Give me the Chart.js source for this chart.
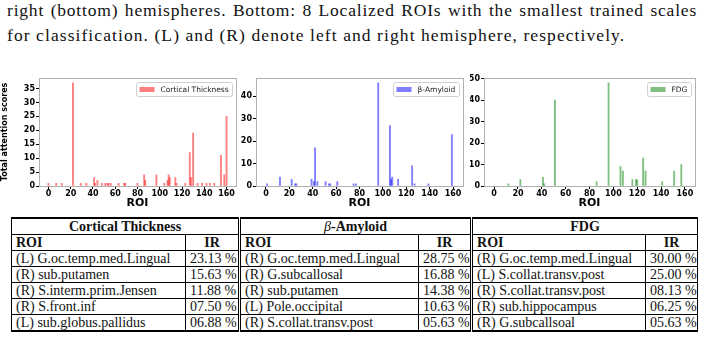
<!DOCTYPE html>
<html>
<head>
<meta charset="utf-8">
<script src="https://cdn.jsdelivr.net/npm/chart.js@4/dist/chart.umd.min.js"></script>
<style>
  html, body { margin:0; padding:0; background:#fff; }
  body { width:703px; height:338px; position:relative; overflow:hidden; }
  .cap { position:absolute; left:7px; font-family:"Liberation Serif", serif; font-size:17.5px; letter-spacing:1.08px; color:#111; white-space:nowrap; line-height:20px; }
  .just { white-space:normal; text-align:justify; text-align-last:justify; letter-spacing:0.8px; }
  .cw { position:absolute; }
  #tbl { position:absolute; left:11px; top:217px; width:686px; border-collapse:collapse; table-layout:fixed;
         font-family:"Liberation Serif", serif; font-size:14px; color:#111;
         border-top:2px solid #000; border-bottom:2px solid #000; }
  #tbl td, #tbl th { border:1px solid #000; padding:0 4px; height:15px; line-height:15px; white-space:nowrap; overflow:hidden; }
  #tbl th { font-weight:bold; text-align:center; }
  #tbl .l { text-align:left; }
  #tbl .g { border-left:3px double #000; }
  #tbl td.ir { text-align:center; }
</style>
</head>
<body>
<div class="cap just" style="top:0px;width:690px;">right (bottom) hemispheres. Bottom: 8 Localized ROIs with the smallest trained scales</div>
<div class="cap" style="top:25px;">for classification. (L) and (R) denote left and right hemisphere, respectively.</div>

<div class="cw" style="left:0px;top:72px;width:240px;height:138px;"><canvas id="c1"></canvas></div>
<div class="cw" style="left:240px;top:72px;width:230px;height:138px;"><canvas id="c2"></canvas></div>
<div class="cw" style="left:470px;top:72px;width:233px;height:138px;"><canvas id="c3"></canvas></div>

<table id="tbl">
  <colgroup><col style="width:174px"><col style="width:54px"><col style="width:179px"><col style="width:53px"><col style="width:174px"><col style="width:52px"></colgroup>
  <tbody id="tb"></tbody>
</table>

<script>
// ---------- data ----------
const xTicks = [0, 20, 40, 60, 80, 100, 120, 140, 160];

const ctLabel = "Cortical Thickness";
const ctRoi = [0, 7, 12, 22, 29, 34, 41, 42, 44, 48, 51, 53, 54, 56, 63, 68, 69, 80, 86, 87, 97, 104, 107, 108, 109, 114, 115, 123, 127, 128, 130, 134, 138, 142, 145, 149, 155, 158, 160];
const ctVal = [1, 1, 1, 37, 1, 1, 3, 1, 2, 1, 1, 1, 1, 1, 1, 1, 1, 1, 4, 2, 4, 1, 2, 4, 3, 3, 1, 1, 12, 3, 19, 1, 1, 1, 1, 1, 11, 4, 25];
const ctYTicks = [0, 5, 10, 15, 20, 25, 30, 35];

const amLabel = "β-Amyloid";
const amRoi = [1, 12, 22, 25, 26, 39, 41, 42, 44, 51, 54, 55, 61, 75, 77, 96, 106, 107, 108, 113, 125, 127, 139, 159];
const amVal = [1, 4, 3, 1, 1, 3, 2, 17, 2, 2, 1, 1, 2, 1, 1, 46, 27, 3, 4, 3, 9, 1, 1, 23];
const amYTicks = [0, 10, 20, 30, 40];

const fdgLabel = "FDG";
const fdgRoi = [12, 22, 41, 42, 51, 86, 96, 106, 108, 116, 119, 120, 125, 127, 141, 151, 157];
const fdgVal = [1, 3, 4, 1, 40, 2, 48, 9, 7, 3, 3, 3, 13, 7, 2, 7, 10];
const fdgYTicks = [0, 10, 20, 30, 40, 50];

const tableHeads = ["Cortical Thickness", "β-Amyloid", "FDG"];
const ctTableRoi = ["(L) G.oc.temp.med.Lingual", "(R) sub.putamen", "(R) S.interm.prim.Jensen", "(R) S.front.inf", "(L) sub.globus.pallidus"];
const ctTableIR = ["23.13 %", "15.63 %", "11.88 %", "07.50 %", "06.88 %"];
const amTableRoi = ["(R) G.oc.temp.med.Lingual", "(R) G.subcallosal", "(R) sub.putamen", "(L) Pole.occipital", "(R) S.collat.transv.post"];
const amTableIR = ["28.75 %", "16.88 %", "14.38 %", "10.63 %", "05.63 %"];
const fdgTableRoi = ["(R) G.oc.temp.med.Lingual", "(L) S.collat.transv.post", "(R) S.collat.transv.post", "(R) sub.hippocampus", "(R) G.subcallsoal"];
const fdgTableIR = ["30.00 %", "25.00 %", "08.13 %", "06.25 %", "05.63 %"];

// ---------- table ----------
(function () {
  const tb = document.getElementById('tb');
  let h = '<tr>';
  tableHeads.forEach((t, i) => {
    const txt = t.startsWith('β') ? '<i style="font-weight:normal">β</i>' + t.slice(1) : t;
    h += `<th colspan="2" class="${i ? 'g' : ''}">${txt}</th>`;
  });
  h += '</tr><tr>';
  for (let i = 0; i < 3; i++) h += `<th class="l ${i ? 'g' : ''}">ROI</th><th>IR</th>`;
  h += '</tr>';
  const cols = [[ctTableRoi, ctTableIR], [amTableRoi, amTableIR], [fdgTableRoi, fdgTableIR]];
  for (let r = 0; r < 5; r++) {
    h += '<tr>';
    cols.forEach((c, i) => { h += `<td class="${i ? 'g' : ''}">${c[0][r]}</td><td class="ir">${c[1][r]}</td>`; });
    h += '</tr>';
  }
  tb.innerHTML = h;
})();

// ---------- charts ----------
const frameAndLegend = {
  id: 'frameAndLegend',
  afterDraw(chart) {
    const a = chart.chartArea, ctx = chart.ctx;
    ctx.save();
    ctx.strokeStyle = '#b0b0b0';
    ctx.lineWidth = 1;
    ctx.strokeRect(Math.round(a.left) + 0.5, Math.round(a.top) + 0.5, Math.round(a.right - a.left), Math.round(a.bottom - a.top));
    // legend box inside top-right
    const ds = chart.data.datasets[0];
    ctx.font = '7.5px "DejaVu Sans", sans-serif';
    const tw = ctx.measureText(ds.label).width;
    const w = 3 + 15 + 6 + tw + 4, h = 14;
    const x = Math.round(a.right - 4 - w) + 0.5, y = Math.round(a.top + 4) + 0.5;
    ctx.fillStyle = '#fff';
    ctx.strokeStyle = '#d0d0d0';
    ctx.beginPath();
    ctx.roundRect(x, y, Math.round(w), h, 2);
    ctx.fill();
    ctx.stroke();
    ctx.fillStyle = ds.backgroundColor;
    ctx.fillRect(x + 3, y + 4.5, 15, 5);
    ctx.fillStyle = '#222';
    ctx.textBaseline = 'middle';
    ctx.fillText(ds.label, x + 3 + 15 + 6, y + h / 2 + 0.5);
    ctx.restore();
  }
};

Chart.defaults.font.family = '"DejaVu Sans", sans-serif';
Chart.defaults.animation = false;

function makeChart(id, label, roi, val, color, yMax, yTicks, yTitle, yWidth, pad) {
  const tickFont = { size: 8, weight: 'bold', family: '"DejaVu Sans", sans-serif' };
  return new Chart(document.getElementById(id), {
    type: 'bar',
    data: {
      datasets: [{
        label: label,
        data: roi.map((r, i) => ({ x: r, y: val[i] })),
        backgroundColor: color,
        borderWidth: 0,
        barThickness: 1.2,
        grouped: false
      }]
    },
    options: {
      responsive: true,
      maintainAspectRatio: false,
      devicePixelRatio: 1,
      layout: { padding: pad },
      plugins: { legend: { display: false }, tooltip: { enabled: false } },
      scales: {
        x: {
          type: 'linear', min: -8.5, max: 168.5, offset: false,
          afterBuildTicks: s => { s.ticks = xTicks.map(v => ({ value: v })); },
          afterFit: s => { s.height = 24; },
          ticks: { font: tickFont, color: '#000', padding: 0, maxRotation: 0, autoSkip: false },
          grid: { offset: false, drawOnChartArea: false, drawTicks: true, tickLength: 3, color: '#000' },
          border: { display: false },
          title: { display: true, text: 'ROI', color: '#000', font: { size: 11, weight: 'bold' }, padding: 0 }
        },
        y: {
          min: 0, max: yMax,
          afterBuildTicks: s => { s.ticks = yTicks.map(v => ({ value: v })); },
          afterFit: s => { s.width = yWidth; },
          ticks: { font: tickFont, color: '#000', padding: 1, autoSkip: false },
          grid: { drawOnChartArea: false, drawTicks: true, tickLength: 3, color: '#000' },
          border: { display: false },
          title: { display: !!yTitle, text: yTitle || '', color: '#000', font: { size: 8, weight: 'bold' }, padding: 0 }
        }
      }
    },
    plugins: [frameAndLegend]
  });
}

makeChart('c1', ctLabel, ctRoi, ctVal, 'rgba(255,0,0,0.5)', 38.85, ctYTicks, 'Total attention scores', 39, { left: 0, right: 4, top: 5, bottom: 0 });
makeChart('c2', amLabel, amRoi, amVal, 'rgba(0,0,255,0.5)', 48.3, amYTicks, null, 16, { left: 0, right: 7, top: 5, bottom: 0 });
makeChart('c3', fdgLabel, fdgRoi, fdgVal, 'rgba(0,128,0,0.5)', 50.4, fdgYTicks, null, 14, { left: 0, right: 8, top: 5, bottom: 0 });
</script>
</body>
</html>
